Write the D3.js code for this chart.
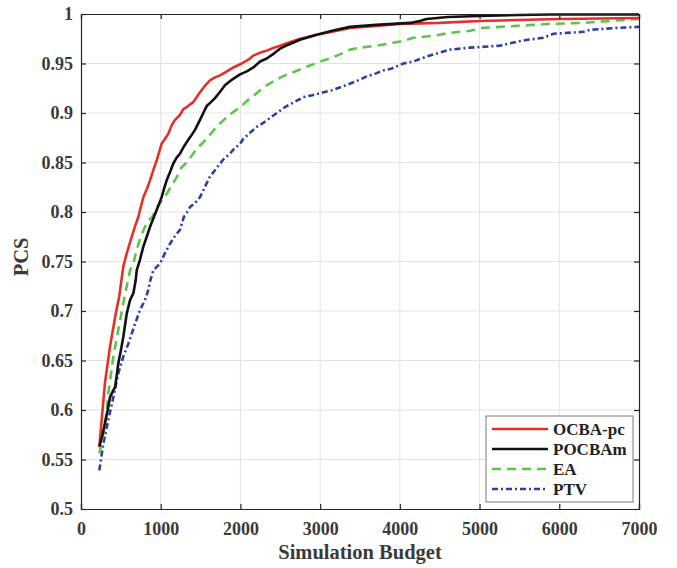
<!DOCTYPE html>
<html>
<head>
<meta charset="utf-8">
<script src="https://cdn.jsdelivr.net/npm/d3@7"></script>
<style>
  html, body { margin: 0; padding: 0; background: #fff; }
  text { font-family: "Liberation Serif", "Times New Roman", serif; font-weight: bold; }
</style>
</head>
<body>
<svg id="chart" width="677" height="568"></svg>
<script>
// PCS versus simulation budget for four allocation procedures
const seriesNames = ["OCBA-pc", "POCBAm", "EA", "PTV"];

const ocbaPc = [
  [230,0.563],[300,0.627],[364,0.664],[435,0.697],[480,0.715],[531,0.745],[580,0.760],[636,0.775],
  [680,0.786],[719,0.795],[782,0.815],[830,0.824],[866,0.832],[910,0.843],[949,0.852],[1012,0.869],
  [1054,0.874],[1095,0.879],[1140,0.888],[1179,0.893],[1242,0.898],[1284,0.904],[1326,0.906],
  [1409,0.911],[1450,0.916],[1493,0.921],[1560,0.928],[1618,0.933],[1680,0.936],[1744,0.938],
  [1830,0.942],[1911,0.946],[2016,0.950],[2120,0.955],[2162,0.958],[2250,0.961],[2330,0.963],
  [2420,0.966],[2496,0.968],[2600,0.971],[2750,0.975],[2957,0.979],[3150,0.982],[3375,0.986],
  [3700,0.988],[4002,0.990],[4500,0.991],[5005,0.993],[6009,0.995],[7000,0.996]
];

const pocbaM = [
  [230,0.563],[270,0.575],[301,0.587],[335,0.600],[364,0.613],[400,0.619],[427,0.623],[450,0.636],
  [468,0.647],[500,0.660],[531,0.674],[573,0.697],[615,0.711],[657,0.718],[686,0.731],[699,0.741],
  [740,0.752],[782,0.765],[820,0.774],[866,0.785],[910,0.794],[949,0.802],[1012,0.815],[1040,0.823],
  [1075,0.832],[1115,0.840],[1158,0.849],[1200,0.855],[1242,0.859],[1290,0.866],[1346,0.873],
  [1390,0.878],[1430,0.883],[1493,0.893],[1540,0.901],[1577,0.907],[1630,0.911],[1681,0.915],
  [1740,0.921],[1806,0.928],[1900,0.934],[1995,0.939],[2080,0.942],[2162,0.946],[2246,0.952],
  [2330,0.955],[2420,0.960],[2496,0.965],[2600,0.969],[2747,0.974],[2957,0.979],[3150,0.983],
  [3375,0.987],[3700,0.989],[4127,0.991],[4250,0.993],[4336,0.995],[4600,0.997],[5005,0.998],
  [5500,0.999],[5884,0.9995],[7000,0.9995]
];

const ea = [
  [230,0.556],[301,0.583],[343,0.617],[406,0.654],[468,0.681],[531,0.708],[573,0.725],[615,0.741],
  [657,0.748],[699,0.762],[750,0.775],[803,0.785],[850,0.792],[887,0.794],[940,0.802],[991,0.809],
  [1050,0.815],[1117,0.824],[1200,0.835],[1260,0.845],[1326,0.850],[1400,0.858],[1451,0.864],
  [1530,0.870],[1606,0.877],[1680,0.884],[1752,0.890],[1830,0.896],[1911,0.901],[2000,0.906],
  [2079,0.912],[2160,0.917],[2246,0.923],[2330,0.928],[2434,0.933],[2530,0.937],[2622,0.940],
  [2750,0.944],[2873,0.948],[3040,0.953],[3150,0.956],[3270,0.960],[3375,0.964],[3500,0.966],
  [3709,0.968],[3918,0.971],[4050,0.973],[4169,0.976],[4420,0.978],[4629,0.981],[4880,0.983],
  [5047,0.986],[5466,0.988],[5884,0.990],[6301,0.991],[6636,0.993],[7000,0.995]
];

const ptv = [
  [230,0.539],[280,0.566],[343,0.590],[406,0.613],[468,0.637],[531,0.654],[594,0.667],[678,0.687],
  [740,0.701],[803,0.711],[840,0.720],[870,0.731],[907,0.741],[991,0.748],[1050,0.758],[1117,0.768],
  [1180,0.776],[1242,0.782],[1290,0.795],[1326,0.799],[1367,0.805],[1430,0.809],[1493,0.815],
  [1535,0.822],[1618,0.836],[1660,0.840],[1744,0.849],[1785,0.853],[1869,0.859],[1911,0.863],
  [1995,0.869],[2037,0.874],[2120,0.880],[2204,0.886],[2287,0.890],[2371,0.895],[2476,0.901],
  [2538,0.905],[2650,0.910],[2789,0.916],[2900,0.918],[2998,0.920],[3150,0.923],[3291,0.927],
  [3450,0.932],[3584,0.937],[3700,0.940],[3793,0.943],[3900,0.945],[4044,0.950],[4169,0.952],
  [4336,0.957],[4500,0.961],[4629,0.964],[4880,0.966],[5256,0.968],[5466,0.972],[5600,0.974],
  [5800,0.976],[5925,0.980],[6301,0.982],[6385,0.984],[6720,0.986],[7000,0.987]
];

const xTicks = [0, 1000, 2000, 3000, 4000, 5000, 6000, 7000];
const yTicks = [0.5, 0.55, 0.6, 0.65, 0.7, 0.75, 0.8, 0.85, 0.9, 0.95, 1];
const yTickLabels = ["0.5", "0.55", "0.6", "0.65", "0.7", "0.75", "0.8", "0.85", "0.9", "0.95", "1"];

const seriesData = [ocbaPc, pocbaM, ea, ptv];
const seriesStyles = [
  { color: "#e5302a", dash: null },
  { color: "#111111", dash: null },
  { color: "#5cc64c", dash: "9,6" },
  { color: "#2c40a4", dash: "6,3,2,3" }
];

const W = 677, H = 568;
const margin = { left: 81, top: 14, right: 38, bottom: 59 };
const iw = W - margin.left - margin.right;
const ih = H - margin.top - margin.bottom;

const svg = d3.select("#chart");
const g = svg.append("g").attr("transform", `translate(${margin.left},${margin.top})`);

const x = d3.scaleLinear().domain([0, 7000]).range([0, iw]);
const y = d3.scaleLinear().domain([0.5, 1]).range([ih, 0]);

// grid
g.append("g").selectAll("line.vx").data(xTicks.slice(1, -1)).join("line")
  .attr("x1", d => x(d)).attr("x2", d => x(d)).attr("y1", 0).attr("y2", ih)
  .attr("stroke", "#e3e3e3").attr("stroke-width", 1);
g.append("g").selectAll("line.hy").data(yTicks.slice(1, -1)).join("line")
  .attr("x1", 0).attr("x2", iw).attr("y1", d => y(d)).attr("y2", d => y(d))
  .attr("stroke", "#e3e3e3").attr("stroke-width", 1);

// curves
const line = d3.line().x(d => x(d[0])).y(d => y(d[1]));
svg.append("clipPath").attr("id", "plotclip")
  .append("rect").attr("x", 0).attr("y", -2).attr("width", iw).attr("height", ih + 2);
const curves = g.append("g").attr("clip-path", "url(#plotclip)");
// draw bottom-most first so OCBA-pc and POCBAm sit on top
[3, 2, 0, 1].forEach(i => {
  curves.append("path").datum(seriesData[i])
    .attr("d", line)
    .attr("fill", "none")
    .attr("stroke", seriesStyles[i].color)
    .attr("stroke-width", 2.6)
    .attr("stroke-linejoin", "round")
    .attr("stroke-dasharray", seriesStyles[i].dash);
});

// axes (ticks inward, on all four sides)
const axisColor = "#262626";
const tickLen = 5;
const xAxis = d3.axisBottom(x).tickValues(xTicks).tickSize(-tickLen).tickPadding(13).tickFormat(d3.format("d"));
const xAxisTop = d3.axisTop(x).tickValues(xTicks).tickSize(-tickLen).tickFormat("");
const yAxis = d3.axisLeft(y).tickValues(yTicks).tickSize(-tickLen).tickPadding(8)
  .tickFormat((d, i) => yTickLabels[i]);
const yAxisRight = d3.axisRight(y).tickValues(yTicks).tickSize(-tickLen).tickFormat("");

function styleAxis(sel) {
  sel.select(".domain").attr("stroke", axisColor).attr("stroke-width", 1.2);
  sel.selectAll(".tick line").attr("stroke", axisColor).attr("stroke-width", 1.2);
  sel.selectAll(".tick text").attr("fill", "#3a3a3a")
    .style("font-family", '"Liberation Serif", serif').style("font-weight", "bold").style("font-size", "18px");
}

g.append("g").attr("transform", `translate(0,${ih})`).call(xAxis).call(styleAxis);
g.append("g").call(xAxisTop).call(styleAxis);
g.append("g").call(yAxis).call(styleAxis);
g.append("g").attr("transform", `translate(${iw},0)`).call(yAxisRight).call(styleAxis);

// axis titles
svg.append("text")
  .attr("x", margin.left + iw / 2).attr("y", 559)
  .attr("text-anchor", "middle").attr("fill", "#3a3a3a")
  .style("font-size", "20.5px").text("Simulation Budget");
svg.append("text")
  .attr("transform", `translate(28,257) rotate(-90)`)
  .attr("text-anchor", "middle").attr("fill", "#3a3a3a")
  .style("font-size", "20.5px").text("PCS");

// legend
const lg = svg.append("g").attr("transform", "translate(486,416)");
lg.append("rect").attr("width", 147).attr("height", 86)
  .attr("fill", "#fff").attr("stroke", "#7a7a7a").attr("stroke-width", 1);
seriesNames.forEach((name, i) => {
  const cy = 13 + i * 20;
  lg.append("line").attr("x1", 6).attr("x2", 62).attr("y1", cy).attr("y2", cy)
    .attr("stroke", seriesStyles[i].color).attr("stroke-width", 2.6)
    .attr("stroke-dasharray", seriesStyles[i].dash);
  lg.append("text").attr("x", 67).attr("y", cy + 6)
    .attr("fill", "#222").style("font-size", "17px").text(name);
});
</script>
</body>
</html>
